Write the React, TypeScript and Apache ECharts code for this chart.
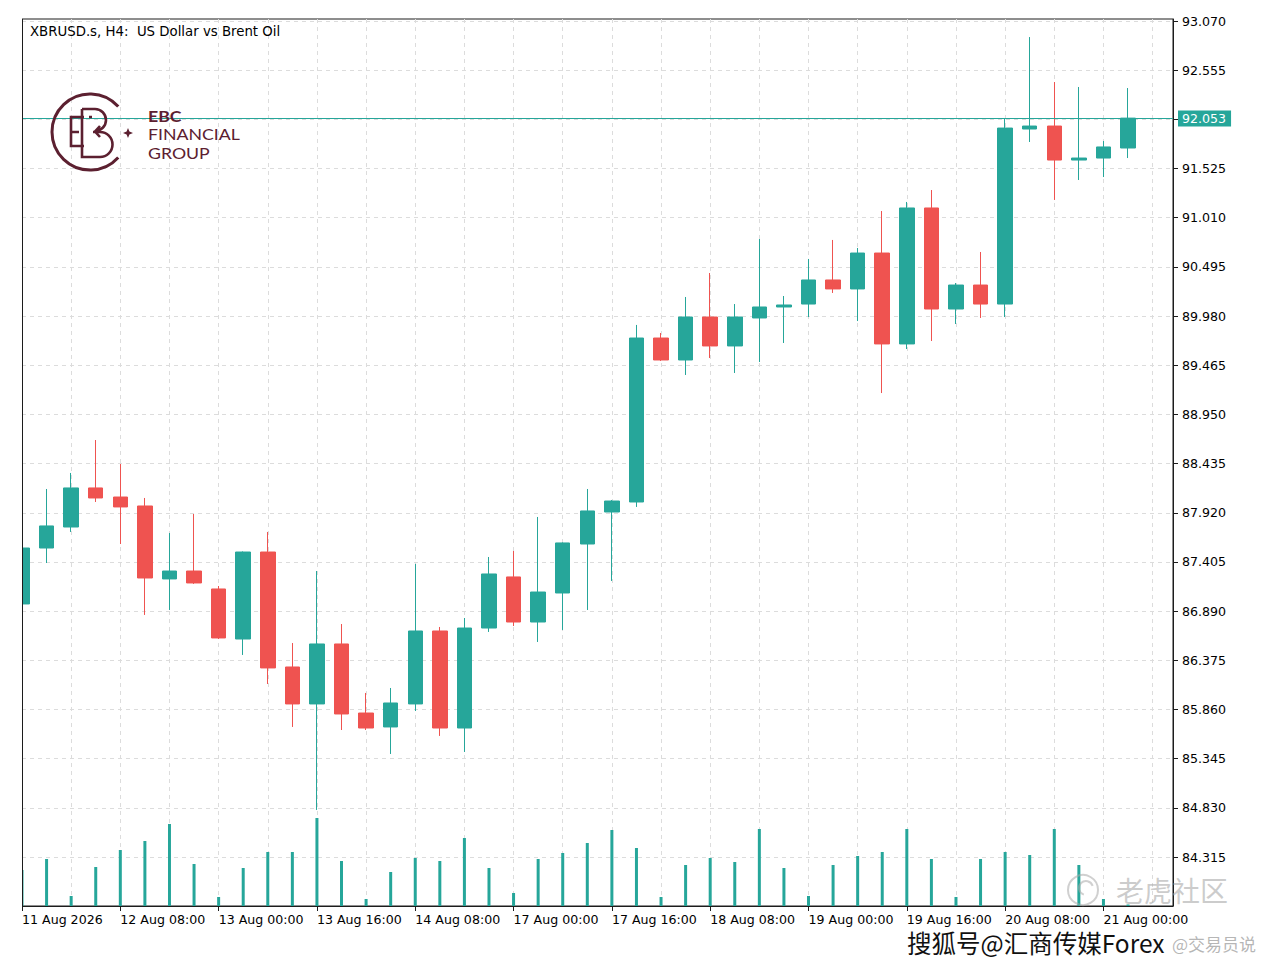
import React, { useEffect, useRef } from "react";
import * as echarts from "echarts";

// ---------- DATA ----------
const BAR_TIMES = [
  "11 Aug 16:00", "11 Aug 20:00",
  "12 Aug 00:00", "12 Aug 04:00", "12 Aug 08:00", "12 Aug 12:00", "12 Aug 16:00", "12 Aug 20:00",
  "13 Aug 00:00", "13 Aug 04:00", "13 Aug 08:00", "13 Aug 12:00", "13 Aug 16:00", "13 Aug 20:00",
  "14 Aug 00:00", "14 Aug 04:00", "14 Aug 08:00", "14 Aug 12:00", "14 Aug 16:00", "14 Aug 20:00",
  "17 Aug 00:00", "17 Aug 04:00", "17 Aug 08:00", "17 Aug 12:00", "17 Aug 16:00", "17 Aug 20:00",
  "18 Aug 00:00", "18 Aug 04:00", "18 Aug 08:00", "18 Aug 12:00", "18 Aug 16:00", "18 Aug 20:00",
  "19 Aug 00:00", "19 Aug 04:00", "19 Aug 08:00", "19 Aug 12:00", "19 Aug 16:00", "19 Aug 20:00",
  "20 Aug 00:00", "20 Aug 04:00", "20 Aug 08:00", "20 Aug 12:00", "20 Aug 16:00", "20 Aug 20:00",
  "21 Aug 00:00", "21 Aug 04:00",
];

const OPEN = [
  86.965, 87.551, 87.771, 88.180, 88.085, 87.991, 87.227, 87.310, 87.122, 86.598,
  87.509, 86.305, 85.918, 86.546, 85.823, 85.677, 85.918, 86.682, 85.666, 86.713,
  87.248, 86.776, 87.080, 87.593, 87.928, 88.033, 89.750, 89.520, 89.970, 89.667,
  89.960, 90.075, 90.106, 90.358, 90.264, 90.640, 89.688, 91.112, 90.054, 90.305,
  90.106, 91.939, 91.970, 91.614, 91.635, 91.740,
];
const HIGH = [
  87.570, 88.169, 88.337, 88.682, 88.431, 88.075, 87.708, 87.907, 87.153, 87.515,
  87.719, 86.556, 87.310, 86.755, 86.033, 86.085, 87.384, 86.724, 86.818, 87.457,
  87.520, 87.876, 87.610, 88.169, 88.053, 89.887, 89.803, 90.180, 90.431, 90.106,
  90.787, 90.190, 90.578, 90.777, 90.693, 91.080, 91.175, 91.300, 90.326, 90.651,
  92.054, 92.902, 92.431, 92.379, 91.813, 92.368,
];
const LOW = [
  86.940, 87.394, 87.719, 88.033, 87.593, 86.850, 86.902, 87.175, 86.598, 86.431,
  86.127, 85.677, 84.808, 85.645, 85.645, 85.394, 85.844, 85.583, 85.415, 86.672,
  86.734, 86.567, 86.693, 86.902, 87.206, 87.981, 89.510, 89.363, 89.541, 89.384,
  89.499, 89.698, 89.970, 90.222, 89.928, 89.174, 89.635, 89.719, 89.897, 89.960,
  89.970, 91.803, 91.196, 91.405, 91.436, 91.635,
];
const CLOSE = [
  87.551, 87.782, 88.180, 88.075, 87.981, 87.237, 87.310, 87.185, 86.609, 87.509,
  86.295, 85.918, 86.546, 85.813, 85.666, 85.928, 86.682, 85.666, 86.713, 87.279,
  86.776, 87.090, 87.604, 87.939, 88.043, 89.750, 89.520, 89.970, 89.667, 89.970,
  90.075, 90.096, 90.358, 90.264, 90.640, 89.688, 91.112, 90.054, 90.305, 90.106,
  91.949, 91.970, 91.614, 91.635, 91.751, 92.053,
];
const VOLUME = [
  3600, 4700, 1000, 3900, 5600, 6500, 8200, 4200, 900, 3800,
  5400, 5400, 8800, 4500, 700, 3400, 4800, 4500, 6800, 3800,
  1300, 4700, 5300, 6300, 7600, 5800, 900, 4100, 4800, 4400,
  7700, 3800, 1000, 4100, 5000, 5400, 7700, 4700, 900, 4700,
  5400, 5100, 7700, 4100, 700, 150,
];

const LABEL_INDEX = [0, 4, 8, 12, 16, 20, 24, 28, 32, 36, 40, 44];
const LABEL_TEXT = [
  "11 Aug 2026", "12 Aug 08:00", "13 Aug 00:00", "13 Aug 16:00", "14 Aug 08:00",
  "17 Aug 00:00", "17 Aug 16:00", "18 Aug 08:00", "19 Aug 00:00", "19 Aug 16:00",
  "20 Aug 08:00", "21 Aug 00:00",
];
const PRICE_TICKS = [
  84.315, 84.83, 85.345, 85.86, 86.375, 86.89, 87.405, 87.92, 88.435, 88.95,
  89.465, 89.98, 90.495, 91.01, 91.525, 92.04, 92.555, 93.07,
];
const PRICE_LABELS = [
  84.315, 84.83, 85.345, 85.86, 86.375, 86.89, 87.405, 87.92, 88.435, 88.95,
  89.465, 89.98, 90.495, 91.01, 91.525, 92.555, 93.07,
];
const LAST_PRICE = 92.053;
const TITLE = "XBRUSD.s, H4:  US Dollar vs Brent Oil";
const LOGO_LINES = ["EBC", "FINANCIAL", "GROUP"];

// ---------- STYLE ----------
const TEAL = "#26a69a";
const RED = "#ef5350";
const MAROON = "#5c2030";
const AXIS_C = "#1c1c1c";
const GRID_C = "#dcdcdc";
const FONT = '"DejaVu Sans", Tahoma, sans-serif';
const LOGO_FONT = 'Lato, "Open Sans", sans-serif';

const Y_MIN = 83.802;
const Y_MAX = 93.091;
const X_MAX = 46.83;
const VOL_MAX = 88700;

const EB_PATH =
  "M84 117 H71 V146 H84 M71 132 H79 M82 109 V157 H100 A12.5 12.5 0 0 0 100 132 H93 M82 109 H95 A11 11 0 0 1 95 131 M100 126 L95 131.5 L100 137 M89 117 H92";
echarts.graphic.registerShape("ebMono", echarts.graphic.extendPath(EB_PATH, {}));

export default function App() {
  const ref = useRef<HTMLDivElement>(null);

  useEffect(() => {
    if (!ref.current) return;
    const chart = echarts.init(ref.current, undefined, { renderer: "svg" });

    const candleData = OPEN.map((o, i) => [i, o, CLOSE[i], LOW[i], HIGH[i]]);
    const volData = VOLUME.map((v, i) => [i, v]);

    const logoText = LOGO_LINES.map((t, i) => ({
      type: "text",
      x: 148,
      y: 116 + i * 18.5,
      z: 10,
      scaleX: 1.15,
      style: {
        text: t,
        font: `${i === 0 ? "bold " : ""}15.4px ${LOGO_FONT}`,
        fill: MAROON,
        verticalAlign: "middle",
        textVerticalAlign: "middle",
      },
    }));

    const option: any = {
      animation: false,
      backgroundColor: "#ffffff",
      textStyle: { fontFamily: FONT },
      grid: {
        left: 22,
        top: 19,
        width: 1151,
        height: 887,
        show: true,
        borderColor: AXIS_C,
        borderWidth: 1,
        backgroundColor: "transparent",
      },
      xAxis: [
        {
          type: "value",
          min: 0,
          max: X_MAX,
          interval: 2,
          position: "bottom",
          axisLine: { show: false, onZero: false },
          axisTick: { show: false },
          axisLabel: { show: false },
          splitLine: { show: true, lineStyle: { color: GRID_C, type: [4, 4], width: 1 } },
        },
        {
          type: "value",
          min: 0,
          max: X_MAX,
          position: "bottom",
          axisLine: { show: true, onZero: false, lineStyle: { color: AXIS_C, width: 1 } },
          axisTick: { show: true, customValues: LABEL_INDEX, length: 5, lineStyle: { color: AXIS_C } },
          axisLabel: {
            show: true,
            customValues: LABEL_INDEX,
            formatter: (v: number) => {
              const k = LABEL_INDEX.indexOf(Math.round(v));
              return k >= 0 ? LABEL_TEXT[k] : "";
            },
            align: "left",
            margin: 7,
            color: "#000",
            fontSize: 12.6,
            fontFamily: FONT,
          },
          splitLine: { show: false },
        },
      ],
      yAxis: [
        {
          type: "value",
          position: "right",
          min: Y_MIN,
          max: Y_MAX,
          axisLine: { show: true, onZero: false, lineStyle: { color: AXIS_C, width: 1 } },
          axisTick: { show: true, customValues: PRICE_TICKS, length: 5, inside: false, lineStyle: { color: AXIS_C } },
          axisLabel: {
            show: true,
            customValues: PRICE_LABELS,
            formatter: (v: number) => v.toFixed(3),
            margin: 9,
            color: "#000",
            fontSize: 12.6,
            fontFamily: FONT,
          },
          splitLine: { show: true, lineStyle: { color: GRID_C, type: [4, 4], width: 1 } },
        },
        {
          type: "value",
          min: 0,
          max: VOL_MAX,
          show: false,
          splitLine: { show: false },
        },
      ],
      series: [
        {
          type: "bar",
          name: "Volume",
          xAxisIndex: 0,
          yAxisIndex: 1,
          data: volData,
          barWidth: 3,
          itemStyle: { color: TEAL },
          silent: true,
          z: 1,
        },
        {
          type: "candlestick",
          name: "XBRUSD.s",
          xAxisIndex: 0,
          yAxisIndex: 0,
          data: candleData,
          barWidth: 15,
          clip: true,
          itemStyle: {
            color: TEAL,
            color0: RED,
            borderColor: TEAL,
            borderColor0: RED,
            borderWidth: 1,
          },
          z: 3,
          markLine: {
            silent: true,
            symbol: ["none", "none"],
            lineStyle: { color: TEAL, width: 1, type: "solid" },
            label: {
              show: true,
              position: "end",
              formatter: LAST_PRICE.toFixed(3),
              color: "#fff",
              backgroundColor: TEAL,
              padding: [2, 5, 1, 4],
              fontSize: 12.6,
              fontFamily: FONT,
              distance: 5,
            },
            emphasis: { disabled: true },
            data: [{ yAxis: LAST_PRICE }],
          },
        },
      ],
      graphic: [
        // mask the part of the first bar that lies left of the chart frame
        {
          type: "rect",
          z: 50,
          silent: true,
          shape: { x: 0, y: 19, width: 22, height: 888 },
          style: { fill: "#ffffff" },
        },
        {
          type: "line",
          z: 51,
          silent: true,
          shape: { x1: 22.5, y1: 19, x2: 22.5, y2: 906.5 },
          style: { stroke: AXIS_C, lineWidth: 1 },
        },
        {
          type: "text",
          x: 30,
          y: 31,
          z: 10,
          style: {
            text: TITLE,
            font: `13.3px ${FONT}`,
            fill: "#000",
            verticalAlign: "middle",
            textVerticalAlign: "middle",
          },
        },
        {
          type: "arc",
          z: 10,
          shape: {
            cx: 90,
            cy: 132,
            r: 38,
            startAngle: (42 * Math.PI) / 180,
            endAngle: (318 * Math.PI) / 180,
            clockwise: true,
          },
          style: { stroke: MAROON, lineWidth: 3, fill: "none" },
        },
        {
          type: "ebMono",
          x: 0,
          y: 0,
          z: 10,
          style: { stroke: MAROON, lineWidth: 2.6, fill: "none" },
        },
        {
          type: "polygon",
          z: 10,
          shape: {
            points: [
              [128, 128], [129.4, 131.6], [133, 133], [129.4, 134.4],
              [128, 138], [126.6, 134.4], [123, 133], [126.6, 131.6],
            ],
          },
          style: { fill: MAROON },
        },
        ...logoText,
        // watermarks
        {
          type: "circle",
          z: 60,
          shape: { cx: 1083, cy: 890, r: 15 },
          style: { stroke: "rgba(170,170,170,0.55)", lineWidth: 2, fill: "none" },
        },
        {
          type: "arc",
          z: 60,
          shape: { cx: 1086, cy: 888, r: 7, startAngle: Math.PI * 0.6, endAngle: Math.PI * 1.9, clockwise: true },
          style: { stroke: "rgba(170,170,170,0.55)", lineWidth: 2, fill: "none" },
        },
        {
          type: "text",
          x: 1116,
          y: 890,
          z: 60,
          style: {
            text: "老虎社区",
            font: `28px "Noto Sans CJK SC", sans-serif`,
            fill: "rgba(170,170,170,0.6)",
            verticalAlign: "middle",
            textVerticalAlign: "middle",
          },
        },
        {
          type: "text",
          x: 907,
          y: 942,
          z: 61,
          style: {
            text: "搜狐号@汇商传媒Forex",
            font: `24.5px "Noto Sans CJK SC", sans-serif`,
            fill: "#111",
            stroke: "#fff",
            lineWidth: 2,
            verticalAlign: "middle",
            textVerticalAlign: "middle",
          },
        },
        {
          type: "text",
          x: 1172,
          y: 943,
          z: 60,
          style: {
            text: "@交易员说",
            font: `17px "Noto Sans CJK SC", sans-serif`,
            fill: "rgba(150,150,150,0.7)",
            verticalAlign: "middle",
            textVerticalAlign: "middle",
          },
        },
      ],
    };

    chart.setOption(option);
    return () => {
      chart.dispose();
    };
  }, []);

  return (
    <div
      ref={ref}
      style={{
        position: "fixed",
        left: 0,
        top: 0,
        width: 1267,
        height: 970,
        background: "#fff",
      }}
    />
  );
}
